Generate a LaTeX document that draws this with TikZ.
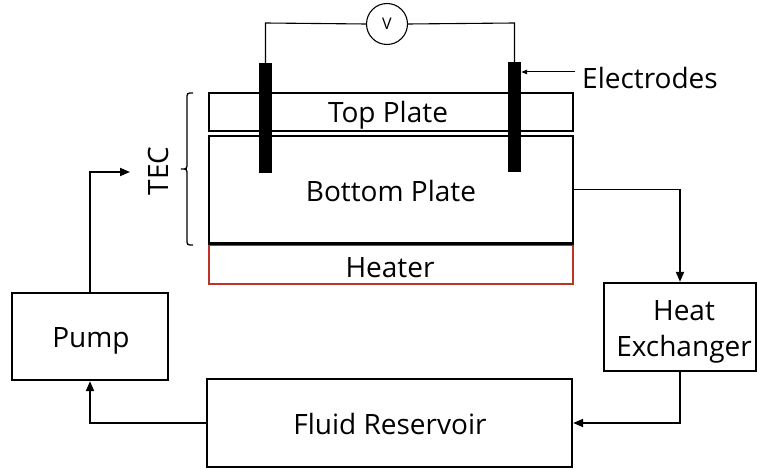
\documentclass[tikz,border=0pt]{standalone}
\usepackage{fontspec}
\setmainfont{Open Sans}
\usetikzlibrary{arrows.meta,calc}
\definecolor{heatred}{RGB}{190,50,40}
\tikzset{
  box/.style={draw=black,line width=2.3pt,inner sep=0pt,rectangle},
  electrode/.style={fill=black,draw=none,inner sep=0pt,minimum width=13pt,minimum height=110pt},
  flow/.style={line width=1.8pt,-{Triangle[length=10pt,width=8pt]}},
  wire/.style={line width=1.1pt},
  lab/.style={font=\fontsize{28}{32}\selectfont,inner sep=0pt,anchor=base},
  pointer/.style={line width=1pt,-{Triangle[length=6pt,width=4.5pt]}}
}
\begin{document}
\begin{tikzpicture}[x=1pt,y=-1pt]
\useasboundingbox (0,0) rectangle (757,470);
% plates
\node[box,minimum width=364pt,minimum height=38pt] (top) at (391,112) {};
\node[box,minimum width=364pt,minimum height=107pt] (bottom) at (391,189.5) {};
\node[box,draw=heatred,minimum width=364pt,minimum height=39pt] (heater) at (391,264.5) {};
\draw[line width=2.3pt] (heater.north west) -- (heater.north east);
% electrodes
\node[electrode] (le) at (265.5,118) {};
\node[electrode] (re) at (514.5,117.5) {};
% voltmeter
\node[draw,circle,line width=1.1pt,minimum size=41pt,inner sep=0pt,font=\fontsize{16}{19}\selectfont] (vm) at (387,24) {V};
\coordinate (wl) at (265.5,23);
\coordinate (wr) at (514.5,23);
\draw[wire] (le.north) -- (wl) -- (vm.west);
\draw[wire] (re.north) -- (wr) -- (vm.east);
% labels
\node[lab] (tpl) at (388,123) {Top Plate};
\node[lab] (bpl) at (391,202) {Bottom Plate};
\node[lab] (hl) at (390,277) {Heater};
\node[lab,anchor=base west] (el) at (582,89) {Electrodes};
\coordinate (ea) at (575,72);
\draw[pointer] (ea) -- (ea -| re.east) ;
% TEC brace
\draw[line width=1.3pt] (193,93) .. controls (187,93) .. (187,99) -- (187,163) .. controls (187,169) .. (181,169) .. controls (187,169) .. (187,175) -- (187,239) .. controls (187,245) .. (193,245);
\node[lab,rotate=90] (tec) at (168,171) {TEC};
% loop boxes
\node[box,minimum width=156pt,minimum height=87pt] (pump) at (90,336.5) {};
\node[lab] at (91,347) {Pump};
\node[box,minimum width=152pt,minimum height=88pt] (hx) at (680,327) {};
\node[lab] at (684,320) {Heat};
\node[lab] at (684,356) {Exchanger};
\node[box,minimum width=365pt,minimum height=88pt] (res) at (389.5,423) {};
\node[lab] at (390,434) {Fluid Reservoir};
% flow connectors
\coordinate (tin) at (130,172);
\draw[flow] (bottom.east) -| (hx.north);
\draw[flow] (hx.south) |- (res.east);
\draw[flow] (res.west) -| (pump.south);
\draw[flow] (pump.north) |- (tin);
\end{tikzpicture}
\end{document}
